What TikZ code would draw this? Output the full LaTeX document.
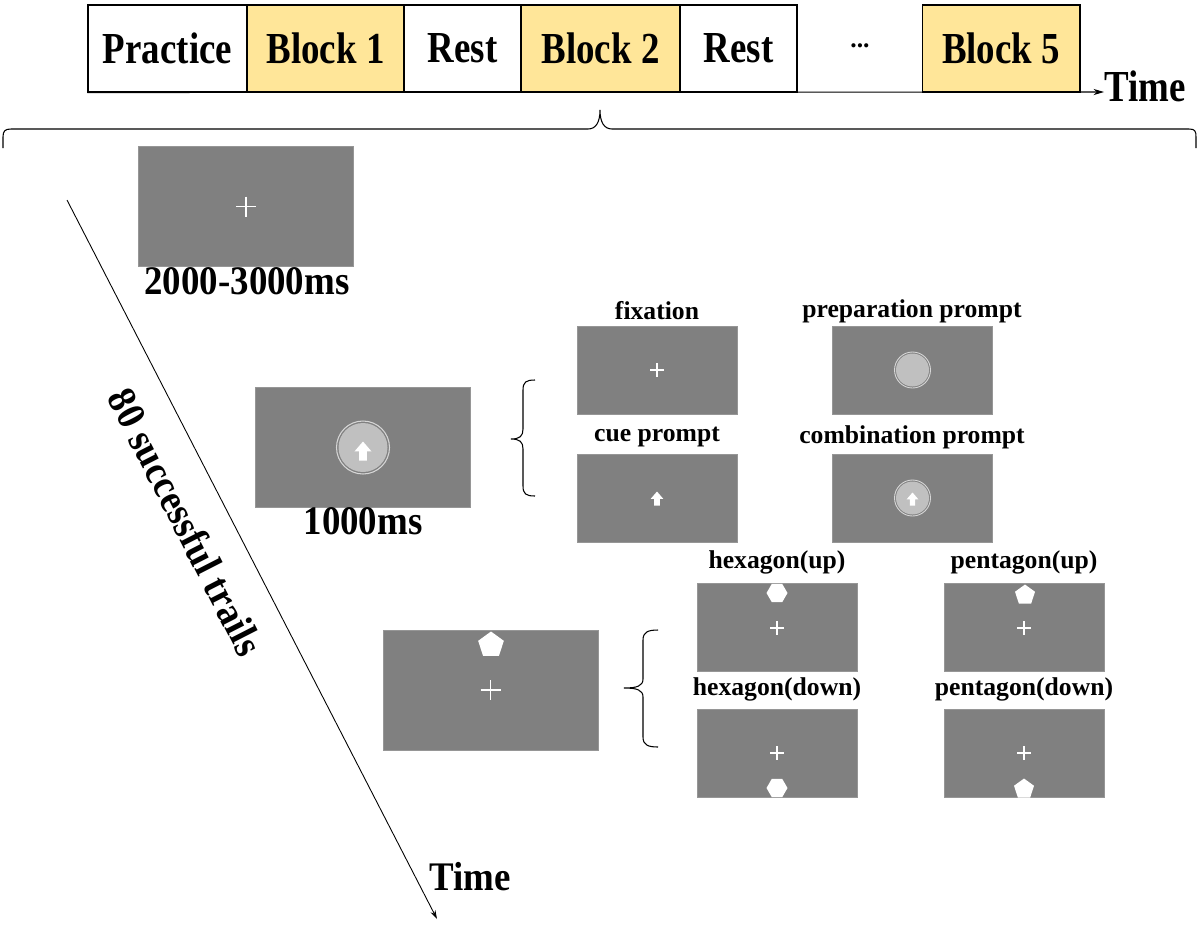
\documentclass[tikz,border=0pt]{standalone}
\usepackage{fontspec}
\usepackage{graphicx}
\setmainfont{Liberation Serif}
\usetikzlibrary{arrows.meta,shapes.geometric}

\definecolor{scrgray}{RGB}{128,128,128}
\definecolor{scredge}{RGB}{150,150,150}
\definecolor{blockyellow}{RGB}{255,230,153}
\definecolor{discgray}{RGB}{192,192,192}
\definecolor{ringgray}{RGB}{215,215,215}

\newcommand{\bigfont}{\fontsize{21}{24}\selectfont\bfseries}
\newcommand{\capfont}{\fontsize{14.6}{17}\selectfont\bfseries}
\newcommand{\tall}[1]{\scalebox{1}[1.2]{#1}}
\newcommand{\lesstall}[1]{\scalebox{1}[1.1]{#1}}

\tikzset{
  stage/.style={draw, line width=0.6pt, minimum height=1.74cm, inner sep=0pt, font=\bigfont},
  bigscreen/.style={fill=scrgray, draw=scredge, line width=0.4pt, minimum width=4.3cm, minimum height=2.4cm, inner sep=0pt},
  smallscreen/.style={fill=scrgray, draw=scredge, line width=0.4pt, minimum width=3.2cm, minimum height=1.76cm, inner sep=0pt},
  caption/.style={font=\capfont, inner sep=0pt},
  biglabel/.style={font=\bigfont, inner sep=0pt},
  shapemark/.style={regular polygon, fill=white, inner sep=0pt, outer sep=0pt},
  brace line/.style={line width=0.6pt},
  pics/cross/.style={code={\draw[white, line width=#1*0.11pt] (-#1,0) -- (#1,0) (0,-#1) -- (0,#1);}},
  pics/uparr/.style={code={\fill[white] (-0.4,1) -- (-0.4,0.05) -- (-0.9,0.05) -- (0,-1) -- (0.9,0.05) -- (0.4,0.05) -- (0.4,1) -- cycle;}},
}

\begin{document}
\begin{tikzpicture}[x=0.02cm, y=-0.02cm]
\useasboundingbox (0,0) rectangle (1200,924);

\node[stage, minimum width=3.18cm] (prac) at (167.5,48.5) {\tall{Practice}};
\node[stage, fill=blockyellow, minimum width=3.14cm] (blk1) at (325.5,48.5) {\tall{Block 1}};
\node[stage, minimum width=2.34cm] (rest1) at (462.5,48.5) {\tall{Rest}};
\node[stage, fill=blockyellow, minimum width=3.18cm] (blk2) at (600.5,48.5) {\tall{Block 2}};
\node[stage, minimum width=2.34cm] (rest2) at (738.5,48.5) {\tall{Rest}};
\node[biglabel, font=\capfont] (dots) at (860,46) {...};
\node[stage, fill=blockyellow, minimum width=3.16cm] (blk5) at (1001,48.5) {\tall{Block 5}};
\coordinate (tend) at (1104,92);
\draw[line width=0.6pt, -{Stealth[length=6pt,width=3.5pt]}] (prac.south west) -- (tend);
\node[biglabel, anchor=west] (ttop) at (1104,86) {\tall{Time}};

\draw[brace line] (3,148) -- (3,137) .. controls (3,131) and (5,129) .. (11,129) -- (588,129)
  .. controls (596,129) and (600,122) .. (600,110) .. controls (600,122) and (604,129) .. (612,129)
  -- (1189,129) .. controls (1195,129) and (1196,131) .. (1196,137) -- (1196,148);

\node[bigscreen] (trial1) at (246,206.5) {};
\pic at (trial1.center) {cross=10};
\node[biglabel] (dur1) at (247,281) {\lesstall{2000-3000ms}};

\node[bigscreen] (trial2) at (363,447.5) {};
\fill[discgray] (trial2.center) circle (24.5);
\draw[ringgray, line width=0.6pt] (trial2.center) circle (26.5);
\pic[scale=9.5] at (363,451) {uparr};
\node[biglabel] (dur2) at (363,521) {\lesstall{1000ms}};

\draw[brace line] (535,380) .. controls (526,380) and (523,382) .. (523,390) -- (523,429)
  .. controls (523,436) and (520,439) .. (511,439) .. controls (520,439) and (523,442) .. (523,449)
  -- (523,486) .. controls (523,494) and (526,496) .. (535,496);

\node[smallscreen] (fix) at (657,370) {};
\pic at (fix.center) {cross=7};
\node[caption] (fixcap) at (657,311) {fixation};
\node[smallscreen] (prep) at (912.5,370) {};
\fill[discgray] (prep.center) circle (16.5);
\draw[ringgray, line width=0.5pt] (prep.center) circle (18);
\node[caption] (prepcap) at (912,311) {preparation prompt};
\node[smallscreen] (cue) at (657,498) {};
\pic[scale=7] at (657,498.5) {uparr};
\node[caption] (cuecap) at (657,437) {cue prompt};
\node[smallscreen] (comb) at (912.5,498) {};
\fill[discgray] (comb.center) circle (16.5);
\draw[ringgray, line width=0.5pt] (comb.center) circle (18);
\pic[scale=6.5] at (912.5,499) {uparr};
\node[caption] (combcap) at (912,437) {combination prompt};

\node[bigscreen] (trial3) at (490.5,690) {};
\node[shapemark, regular polygon sides=5, minimum size=0.54cm] (pent3) at (491,645) {};
\pic at (trial3.center) {cross=10};

\draw[brace line] (658,630) .. controls (648,630) and (643,632) .. (643,640) -- (643,679)
  .. controls (643,686) and (637,688) .. (624,688) .. controls (637,688) and (643,690) .. (643,697)
  -- (643,737) .. controls (643,745) and (648,747) .. (658,747);

\node[smallscreen] (hexup) at (777,627) {};
\node[shapemark, regular polygon sides=6, minimum size=0.42cm] (hexu) at (777,593) {};
\pic at (777,628) {cross=7};
\node[caption] (hexupcap) at (777,562) {hexagon(up)};
\node[smallscreen] (pentup) at (1024.5,627) {};
\node[shapemark, regular polygon sides=5, minimum size=0.42cm] (pentu) at (1025,595) {};
\pic at (1024,628) {cross=7};
\node[caption] (pentupcap) at (1024,562) {pentagon(up)};
\node[smallscreen] (hexdn) at (777,753) {};
\node[shapemark, regular polygon sides=6, minimum size=0.42cm] (hexd) at (777,788) {};
\pic at (777,753) {cross=7};
\node[caption] (hexdncap) at (777,689) {hexagon(down)};
\node[smallscreen] (pentdn) at (1024.5,753) {};
\node[shapemark, regular polygon sides=5, minimum size=0.42cm] (pentd) at (1024,789) {};
\pic at (1024,753) {cross=7};
\node[caption] (pentdncap) at (1024,689) {pentagon(down)};

\coordinate (dstart) at (67,200);
\coordinate (dend) at (437,919);
\draw[line width=0.5pt, -{Stealth[length=5pt,width=3pt]}] (dstart) -- (dend);
\node[biglabel, rotate=-62.9] (trials) at (186,522) {\lesstall{80 successful trails}};
\node[biglabel] (tbot) at (470,877) {\lesstall{Time}};
\end{tikzpicture}
\end{document}
